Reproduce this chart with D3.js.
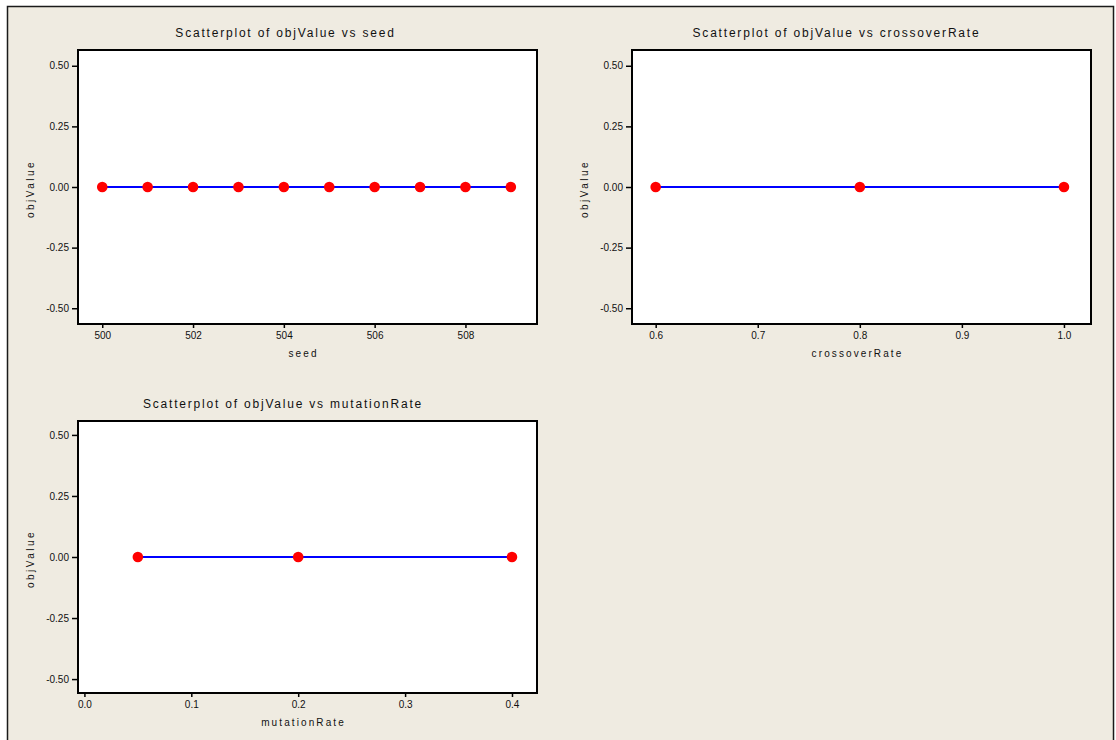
<!DOCTYPE html>
<html>
<head>
<meta charset="utf-8">
<script src="https://cdn.jsdelivr.net/npm/d3@7/dist/d3.min.js"></script>
<style>
  body { margin: 0; background: #fff; }
  svg { display: block; }
  .tick text { font-family: "Liberation Sans", Arial, sans-serif; font-size: 10px; fill: #111; }
</style>
</head>
<body>
<svg id="chart" width="1116" height="740"></svg>
<script>
'use strict';

// values
const yTicks = [-0.5, -0.25, 0, 0.25, 0.5];

const seedValues = [500, 501, 502, 503, 504, 505, 506, 507, 508, 509];
const seedObj = [0, 0, 0, 0, 0, 0, 0, 0, 0, 0];
const seedTicks = [500, 502, 504, 506, 508];

const crossoverValues = [0.6, 0.8, 1.0];
const crossoverObj = [0, 0, 0];
const crossoverTicks = [0.6, 0.7, 0.8, 0.9, 1.0];

const mutationValues = [0.05, 0.2, 0.4];
const mutationObj = [0, 0, 0];
const mutationTicks = [0.0, 0.1, 0.2, 0.3, 0.4];

const yLabel = 'objValue';

const panels = [
  {title: 'Scatterplot of objValue vs seed', xName: 'seed', xs: seedValues, ys: seedObj,
   ticks: seedTicks, fmt: d3.format('d'), xDomain: [499.466, 509.576], yDomain: [-0.565, 0.565],
   box: {left: 78, top: 50, right: 537, bottom: 324}, yLabelX: 31, titleShift: -22},
  {title: 'Scatterplot of objValue vs crossoverRate', xName: 'crossoverRate', xs: crossoverValues, ys: crossoverObj,
   ticks: crossoverTicks, fmt: d3.format('.1f'), xDomain: [0.5768, 1.0265], yDomain: [-0.565, 0.565],
   box: {left: 632, top: 50, right: 1091, bottom: 324}, yLabelX: 585, titleShift: -25},
  {title: 'Scatterplot of objValue vs mutationRate', xName: 'mutationRate', xs: mutationValues, ys: mutationObj,
   ticks: mutationTicks, fmt: d3.format('.1f'), xDomain: [-0.006, 0.4234], yDomain: [-0.557, 0.557],
   box: {left: 78, top: 421, right: 537, bottom: 693}, yLabelX: 31, titleShift: -24.5}
];

const bgColor = '#efebe1';
const fontFamily = '"Liberation Sans", Arial, sans-serif';
const yFmt = d => d3.format('.2f')(d).replace('\u2212', '-');

const svg = d3.select('#chart');

// outer frame
svg.append('rect')
  .attr('x', 7.5)
  .attr('y', 6.5)
  .attr('width', 1106)
  .attr('height', 800)
  .attr('fill', bgColor)
  .attr('stroke', '#1a1a1a')
  .attr('stroke-width', 1.5);

function drawPanel(p) {
  const b = p.box;
  const g = svg.append('g');

  const x = d3.scaleLinear().domain(p.xDomain).range([b.left, b.right]);
  const y = d3.scaleLinear().domain(p.yDomain).range([b.bottom, b.top]);

  g.append('rect')
    .attr('x', b.left)
    .attr('y', b.top)
    .attr('width', b.right - b.left)
    .attr('height', b.bottom - b.top)
    .attr('fill', '#fff');

  const yAxis = g.append('g')
    .attr('transform', `translate(${b.left},0)`)
    .call(d3.axisLeft(y).tickValues(yTicks).tickFormat(yFmt).tickSize(6).tickPadding(3));
  const xAxis = g.append('g')
    .attr('transform', `translate(0,${b.bottom})`)
    .call(d3.axisBottom(x).tickValues(p.ticks).tickFormat(p.fmt).tickSize(4).tickPadding(4));
  [yAxis, xAxis].forEach(a => {
    a.select('.domain').remove();
    a.selectAll('.tick line').attr('stroke', '#000').attr('stroke-width', 1.5);
  });

  const pts = p.xs.map((v, i) => ({x: v, y: p.ys[i]}));
  const line = d3.line().x(d => x(d.x)).y(d => y(d.y));

  g.append('path')
    .datum(pts)
    .attr('d', line)
    .attr('fill', 'none')
    .attr('stroke', '#0000ff')
    .attr('stroke-width', 2);

  g.selectAll('.dot')
    .data(pts)
    .enter()
    .append('circle')
    .attr('class', 'dot')
    .attr('cx', d => x(d.x))
    .attr('cy', d => y(d.y))
    .attr('r', 5.3)
    .attr('fill', '#ff0000');

  // frame of the plot area on top
  g.append('rect')
    .attr('x', b.left)
    .attr('y', b.top)
    .attr('width', b.right - b.left)
    .attr('height', b.bottom - b.top)
    .attr('fill', 'none')
    .attr('stroke', '#000')
    .attr('stroke-width', 2);

  g.append('text')
    .attr('x', (b.left + b.right) / 2 + p.titleShift)
    .attr('y', b.top - 13)
    .attr('text-anchor', 'middle')
    .attr('font-family', fontFamily)
    .attr('font-size', 12)
    .attr('letter-spacing', 1.8)
    .attr('fill', '#111')
    .text(p.title);

  g.append('text')
    .attr('x', (b.left + b.right) / 2 - 4)
    .attr('y', b.bottom + 33)
    .attr('text-anchor', 'middle')
    .attr('font-family', fontFamily)
    .attr('font-size', 10)
    .attr('letter-spacing', 2.1)
    .attr('fill', '#111')
    .text(p.xName);

  g.append('text')
    .attr('transform', `translate(${p.yLabelX + 3},${(b.top + b.bottom) / 2 + 2}) rotate(-90)`)
    .attr('text-anchor', 'middle')
    .attr('font-family', fontFamily)
    .attr('font-size', 10)
    .attr('letter-spacing', 2.5)
    .attr('fill', '#111')
    .text(yLabel);
}

panels.forEach(drawPanel);
</script>
</body>
</html>
